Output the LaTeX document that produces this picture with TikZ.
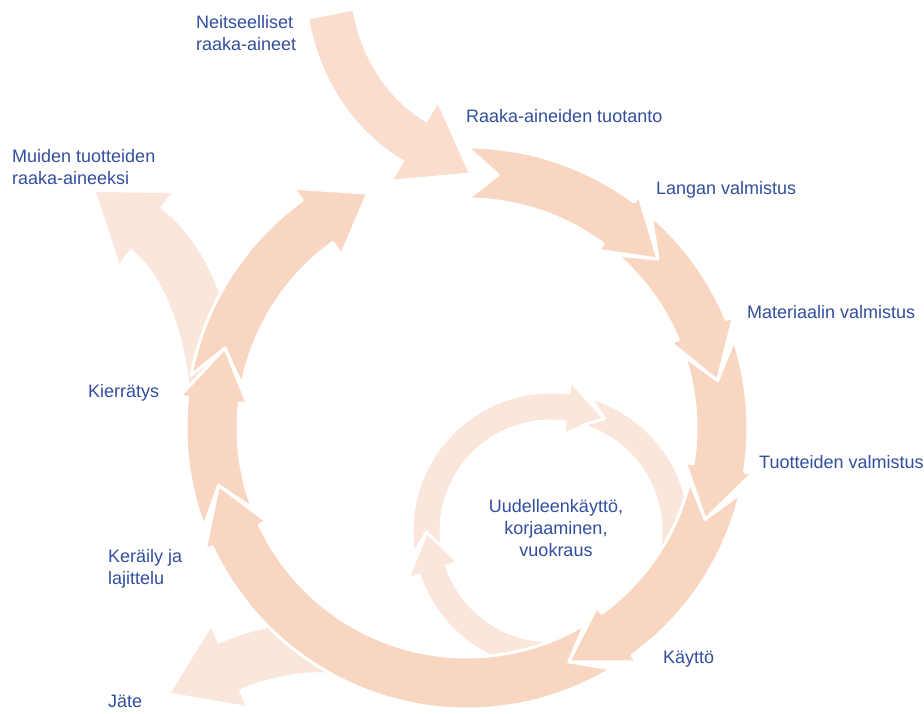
\documentclass[tikz,border=0pt]{standalone}
\usepackage{fontspec}
\setmainfont{Liberation Sans}
\usetikzlibrary{calc}
\definecolor{ringc}{RGB}{249,214,194}
\definecolor{lightc}{RGB}{251,230,219}
\definecolor{inc}{RGB}{250,221,204}
\definecolor{txt}{RGB}{50,78,158}

% curved ring arrow: #1 centre, #2 r inner, #3 r outer, #4 tail corner angle,
% #5 notch apex angle, #6 tip angle, #7 head length (deg), #8 barb, #9 colour
\newcommand{\ringarr}[9]{%
  \pgfmathsetmacro{\RAmid}{(#2+#3)/2}%
  \pgfmathsetmacro{\RAhb}{#6+#7}%
  \filldraw[fill=#9, draw=white, line width=3pt, line join=round]
    ($(#1)+(#4:#3)$) arc[start angle=#4, end angle=\RAhb, radius=#3]
    -- ($(#1)+(\RAhb:{#3+#8})$) -- ($(#1)+(#6:\RAmid)$) -- ($(#1)+(\RAhb:{#2-#8})$)
    -- ($(#1)+(\RAhb:#2)$) arc[start angle=\RAhb, end angle=#4, radius=#2]
    -- ($(#1)+(#5:\RAmid)$) -- cycle;
}
% arrow head at the end of a band: #1 base point, #2 control point before it,
% #3 head length, #4 half width, #5 colour
\newcommand{\bandhead}[5]{%
  \filldraw[fill=#5, draw=#5, line width=0.6pt]
    ($(#1)!#4!90:(#2)$) -- ($(#1)!-#3!(#2)$) -- ($(#1)!#4!-90:(#2)$) -- cycle;
}

\begin{document}
\begin{tikzpicture}[x=1pt,y=1pt,
  lbl/.style={font=\fontsize{18}{22}\selectfont, text=txt, inner sep=0pt, anchor=base west}]
\useasboundingbox (0,0) rectangle (924,-713);
\fill[white] (0,0) rectangle (924,-713);

\coordinate (M) at (467,-428);
\coordinate (I) at (551,-531);

% inner loop
\ringarr{I}{110}{139}{189.5}{180.5}{64.6}{18}{12}{lightc}
\ringarr{I}{110}{139}{73.6}{64.6}{-40}{18}{12}{lightc}
\ringarr{I}{110}{139}{-31}{-40}{-179.5}{18}{12}{lightc}

% side outputs (Muiden tuotteiden raaka-aineeksi, Jate)
\coordinate (mS) at (215,-385);
\coordinate (mC1) at (205,-300);
\coordinate (mC2) at (175,-250);
\coordinate (mB) at (145,-228);
\draw[lightc, line width=50pt] (mS) .. controls (mC1) and (mC2) .. (mB);
\bandhead{mB}{mC2}{60pt}{43pt}{lightc}

\coordinate (jS) at (345,-652);
\coordinate (jC1) at (327,-642);
\coordinate (jC2) at (270,-648);
\coordinate (jB) at (228,-667);
\draw[lightc, line width=50pt] (jS) .. controls (jC1) and (jC2) .. (jB);
\bandhead{jB}{jC2}{62pt}{42pt}{lightc}

% main cycle
\ringarr{M}{229}{281}{90}{83}{41.5}{12}{8}{ringc}
\ringarr{M}{229}{281}{49}{41.5}{10.7}{12}{8}{ringc}
\ringarr{M}{229}{281}{18.2}{10.7}{-21}{12}{8}{ringc}
\ringarr{M}{229}{281}{-13.5}{-21}{-66.5}{12.5}{8}{ringc}
\ringarr{M}{229}{281}{-59}{-66.5}{-167}{12}{8}{ringc}
\ringarr{M}{229}{281}{-159.5}{-167}{-198.3}{12}{8}{ringc}
\ringarr{M}{229}{281}{-190.8}{-198.3}{-247.1}{13}{15}{ringc}

% virgin raw materials input
\coordinate (vS) at (331,-15);
\coordinate (vC1) at (342,-75);
\coordinate (vC2) at (375,-118);
\coordinate (vB) at (416,-142);
\draw[inc, line width=44pt] (vS) .. controls (vC1) and (vC2) .. (vB);
\bandhead{vB}{vC2}{60pt}{43pt}{inc}

% labels
\node[lbl] (t1) at (196,-28) {\begin{tabular}[t]{@{}l@{}}Neitseelliset\\raaka-aineet\end{tabular}};
\node[lbl] (t2) at (466,-122) {Raaka-aineiden tuotanto};
\node[lbl] (t3) at (12,-162) {\begin{tabular}[t]{@{}l@{}}Muiden tuotteiden\\raaka-aineeksi\end{tabular}};
\node[lbl] (t4) at (656,-194) {Langan valmistus};
\node[lbl] (t5) at (747,-318) {Materiaalin valmistus};
\node[lbl] (t6) at (88,-397) {Kierrätys};
\node[lbl] (t7) at (759,-468) {Tuotteiden valmistus};
\node[lbl, anchor=base] (t8) at (556,-512) {\begin{tabular}[t]{@{}c@{}}Uudelleenkäyttö,\\korjaaminen,\\vuokraus\end{tabular}};
\node[lbl] (t9) at (108,-562) {\begin{tabular}[t]{@{}l@{}}Keräily ja\\lajittelu\end{tabular}};
\node[lbl] (t10) at (663,-663) {Käyttö};
\node[lbl] (t11) at (108,-707) {Jäte};
\end{tikzpicture}
\end{document}
